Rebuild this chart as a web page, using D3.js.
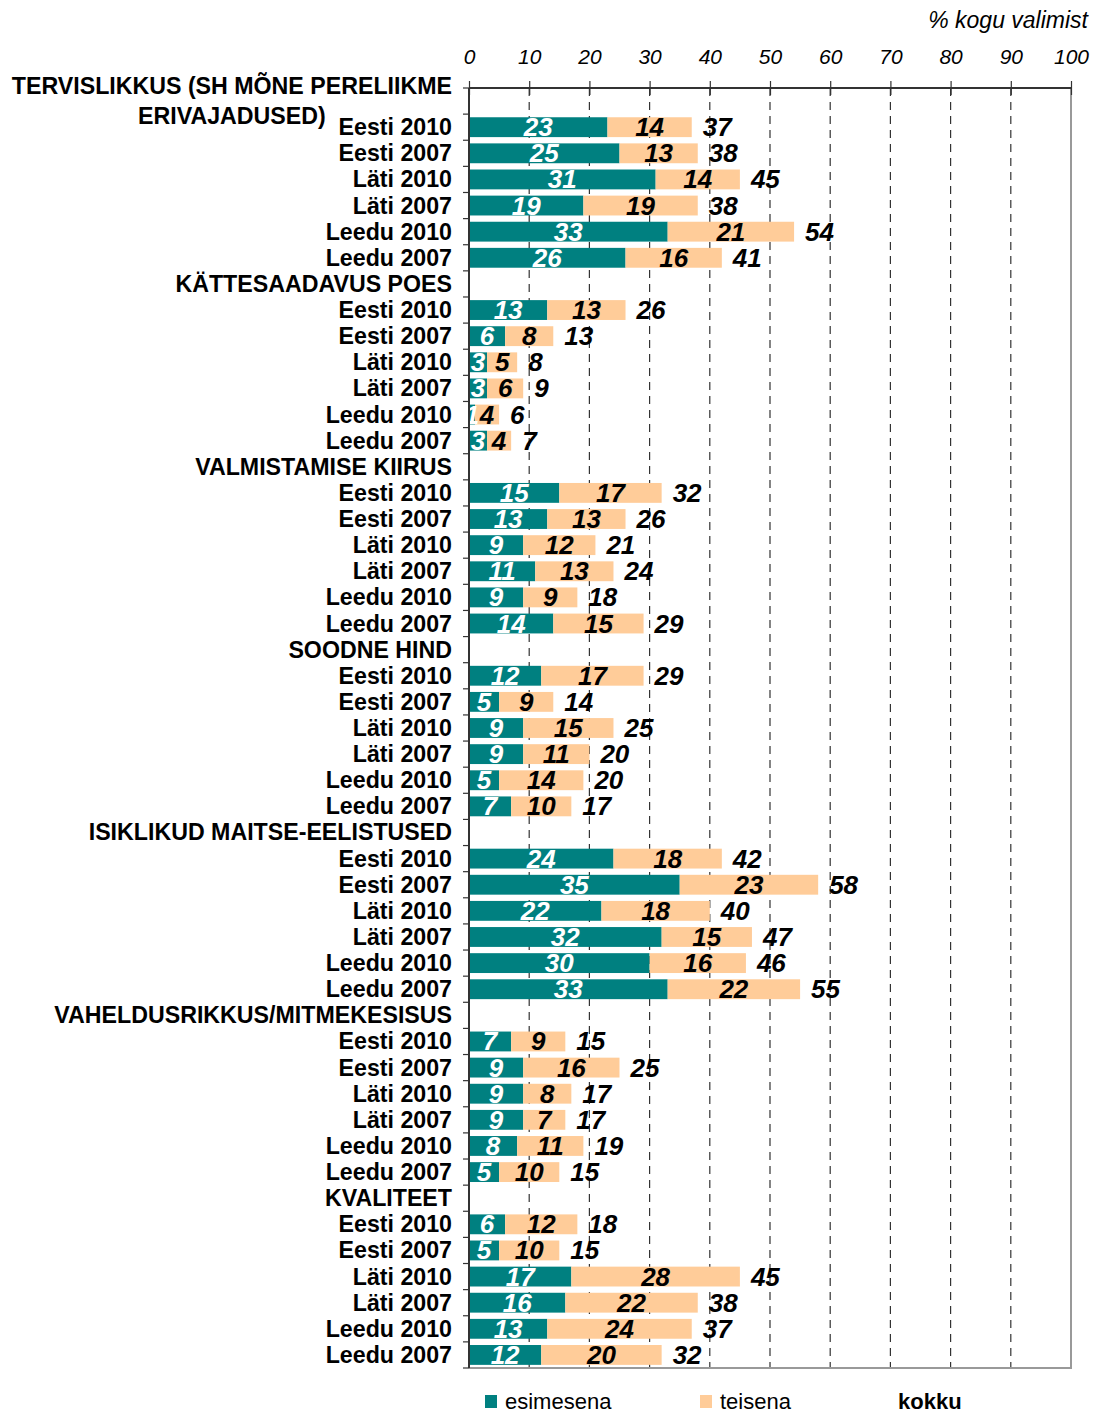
<!DOCTYPE html>
<html>
<head>
<meta charset="utf-8">
<script src="https://cdn.jsdelivr.net/npm/d3@7"></script>
<style>
  body { margin: 0; background: #fff; }
  svg { display: block; font-family: "Liberation Sans", Arial, sans-serif; }
</style>
</head>
<body>
<svg width="1095" height="1414"></svg>
<script>
// categories
var groups = [
  "TERVISLIKKUS (SH MÕNE PERELIIKME ERIVAJADUSED)",
  "KÄTTESAADAVUS POES",
  "VALMISTAMISE KIIRUS",
  "SOODNE HIND",
  "ISIKLIKUD MAITSE-EELISTUSED",
  "VAHELDUSRIKKUS/MITMEKESISUS",
  "KVALITEET"
];
var rowNames = ["Eesti 2010", "Eesti 2007", "Läti 2010", "Läti 2007", "Leedu 2010", "Leedu 2007"];

// series values, one list per group, in rowNames order
var esimesena = [
  [23, 25, 31, 19, 33, 26],
  [13, 6, 3, 3, 1, 3],
  [15, 13, 9, 11, 9, 14],
  [12, 5, 9, 9, 5, 7],
  [24, 35, 22, 32, 30, 33],
  [7, 9, 9, 9, 8, 5],
  [6, 5, 17, 16, 13, 12]
];
var teisena = [
  [14, 13, 14, 19, 21, 16],
  [13, 8, 5, 6, 4, 4],
  [17, 13, 12, 13, 9, 15],
  [17, 9, 15, 11, 14, 10],
  [18, 23, 18, 15, 16, 22],
  [9, 16, 8, 7, 11, 10],
  [12, 10, 28, 22, 24, 20]
];
var kokku = [
  [37, 38, 45, 38, 54, 41],
  [26, 13, 8, 9, 6, 7],
  [32, 26, 21, 24, 18, 29],
  [29, 14, 25, 20, 20, 17],
  [42, 58, 40, 47, 46, 55],
  [15, 25, 17, 17, 19, 15],
  [18, 15, 45, 38, 37, 32]
];
var xTicks = [0, 10, 20, 30, 40, 50, 60, 70, 80, 90, 100];

var teal = "#008080", peach = "#FFCC99";

// build rows: header then six data rows per group
var rows = [];
groups.forEach(function(g, gi) {
  rows.push({header: true, label: g, gi: gi});
  rowNames.forEach(function(r, ri) {
    rows.push({header: false, label: r, a: esimesena[gi][ri], b: teisena[gi][ri], t: kokku[gi][ri]});
  });
});

var svg = d3.select("svg"),
    plotLeft = 469, plotRight = 1071, plotTop = 88, plotBottom = 1368;

var x = d3.scaleLinear().domain([0, 100]).range([plotLeft, plotRight]);
var y = d3.scaleBand().domain(d3.range(rows.length)).range([plotTop, plotBottom]).padding(0);
var bh = y.bandwidth() * 0.76;

// grid lines
svg.append("g").selectAll("line")
  .data(xTicks.slice(1, -1))
  .enter().append("line")
    .attr("x1", function(d) { return x(d); })
    .attr("x2", function(d) { return x(d); })
    .attr("y1", plotTop)
    .attr("y2", plotBottom)
    .attr("stroke", "#333")
    .attr("stroke-width", 1.2)
    .attr("stroke-dasharray", "8,6");

// right and bottom frame
svg.append("line").attr("x1", x(100)).attr("x2", x(100)).attr("y1", plotTop).attr("y2", plotBottom)
  .attr("stroke", "#999").attr("stroke-width", 2);
svg.append("line").attr("x1", plotLeft).attr("x2", x(100) + 1).attr("y1", plotBottom).attr("y2", plotBottom)
  .attr("stroke", "#999").attr("stroke-width", 2);

// bars
var data = rows.map(function(d, i) { d.i = i; return d; }).filter(function(d) { return !d.header; });

var bars = svg.append("g");
bars.selectAll("rect.a").data(data).enter().append("rect")
  .attr("x", x(0))
  .attr("y", function(d) { return y(d.i) + (y.bandwidth() - bh) / 2; })
  .attr("width", function(d) { return x(d.a) - x(0); })
  .attr("height", bh)
  .attr("fill", teal);
bars.selectAll("rect.b").data(data).enter().append("rect")
  .attr("x", function(d) { return x(d.a); })
  .attr("y", function(d) { return y(d.i) + (y.bandwidth() - bh) / 2; })
  .attr("width", function(d) { return x(d.a + d.b) - x(d.a); })
  .attr("height", bh)
  .attr("fill", peach);

// value labels
var lab = svg.append("g")
  .attr("font-size", 26)
  .attr("font-weight", "bold")
  .attr("font-style", "italic");
function cy(d) { return y(d.i) + y.bandwidth() / 2 + 9; }
lab.selectAll("text.a").data(data).enter().append("text")
  .attr("x", function(d) { return x(d.a / 2); })
  .attr("y", cy)
  .attr("text-anchor", "middle")
  .attr("fill", "#fff")
  .text(function(d) { return d.a; });
lab.selectAll("text.b").data(data).enter().append("text")
  .attr("x", function(d) { return x(d.a + d.b / 2); })
  .attr("y", cy)
  .attr("text-anchor", "middle")
  .attr("fill", "#000")
  .text(function(d) { return d.b; });
lab.selectAll("text.t").data(data).enter().append("text")
  .attr("x", function(d) { return x(d.a + d.b) + 11; })
  .attr("y", cy)
  .attr("fill", "#000")
  .text(function(d) { return d.t; });

// left axis with ticks on band edges
svg.append("line").attr("x1", plotLeft).attr("x2", plotLeft).attr("y1", plotTop).attr("y2", plotBottom)
  .attr("stroke", "#333").attr("stroke-width", 2);
svg.append("g").selectAll("line")
  .data(d3.range(rows.length + 1))
  .enter().append("line")
    .attr("x1", plotLeft - 6)
    .attr("x2", plotLeft)
    .attr("y1", function(i) { return plotTop + i * y.step(); })
    .attr("y2", function(i) { return plotTop + i * y.step(); })
    .attr("stroke", "#333")
    .attr("stroke-width", 1.2);

// top axis
var ax = svg.append("g")
  .attr("transform", "translate(0," + plotTop + ")")
  .call(d3.axisTop(x).tickValues(xTicks).tickSize(7).tickPadding(17));
ax.select(".domain").attr("stroke", "#333").attr("stroke-width", 2).attr("d", "M" + plotLeft + ",0H" + (plotRight + 1));
ax.selectAll(".tick line").attr("y2", -7).attr("y1", 7).attr("stroke", "#333").attr("stroke-width", 1.2);
ax.selectAll(".tick text")
  .attr("font-family", "Liberation Sans, Arial, sans-serif")
  .attr("font-size", 21)
  .attr("font-style", "italic")
  .attr("fill", "#000");

svg.append("text")
  .attr("x", 1088).attr("y", 28)
  .attr("text-anchor", "end")
  .attr("font-size", 23)
  .attr("font-style", "italic")
  .text("% kogu valimist");

// row labels
var rl = svg.append("g")
  .attr("font-size", 23.2)
  .attr("font-weight", "bold")
  .attr("fill", "#000");
rows.forEach(function(d, i) {
  var yc = y(i) + y.bandwidth() / 2 + 8;
  if (d.header && i === 0) {
    // first header wraps onto two centred lines
    var parts = ["TERVISLIKKUS (SH MÕNE PERELIIKME", "ERIVAJADUSED)"];
    var t1 = rl.append("text").attr("x", 452).attr("y", yc - 15).attr("text-anchor", "end").text(parts[0]);
    var w = t1.node().getComputedTextLength();
    rl.append("text").attr("x", 452 - w / 2).attr("y", yc + 15).attr("text-anchor", "middle").text(parts[1]);
  } else {
    rl.append("text").attr("x", 452).attr("y", yc).attr("text-anchor", "end").text(d.label);
  }
});

// legend
var lg = svg.append("g").attr("font-size", 22);
lg.append("rect").attr("x", 485).attr("y", 1395).attr("width", 12).attr("height", 13).attr("fill", teal);
lg.append("text").attr("x", 505).attr("y", 1409).text("esimesena");
lg.append("rect").attr("x", 700).attr("y", 1395).attr("width", 12).attr("height", 13).attr("fill", peach);
lg.append("text").attr("x", 720).attr("y", 1409).text("teisena");
lg.append("text").attr("x", 898).attr("y", 1409).attr("font-weight", "bold").text("kokku");
</script>
</body>
</html>
